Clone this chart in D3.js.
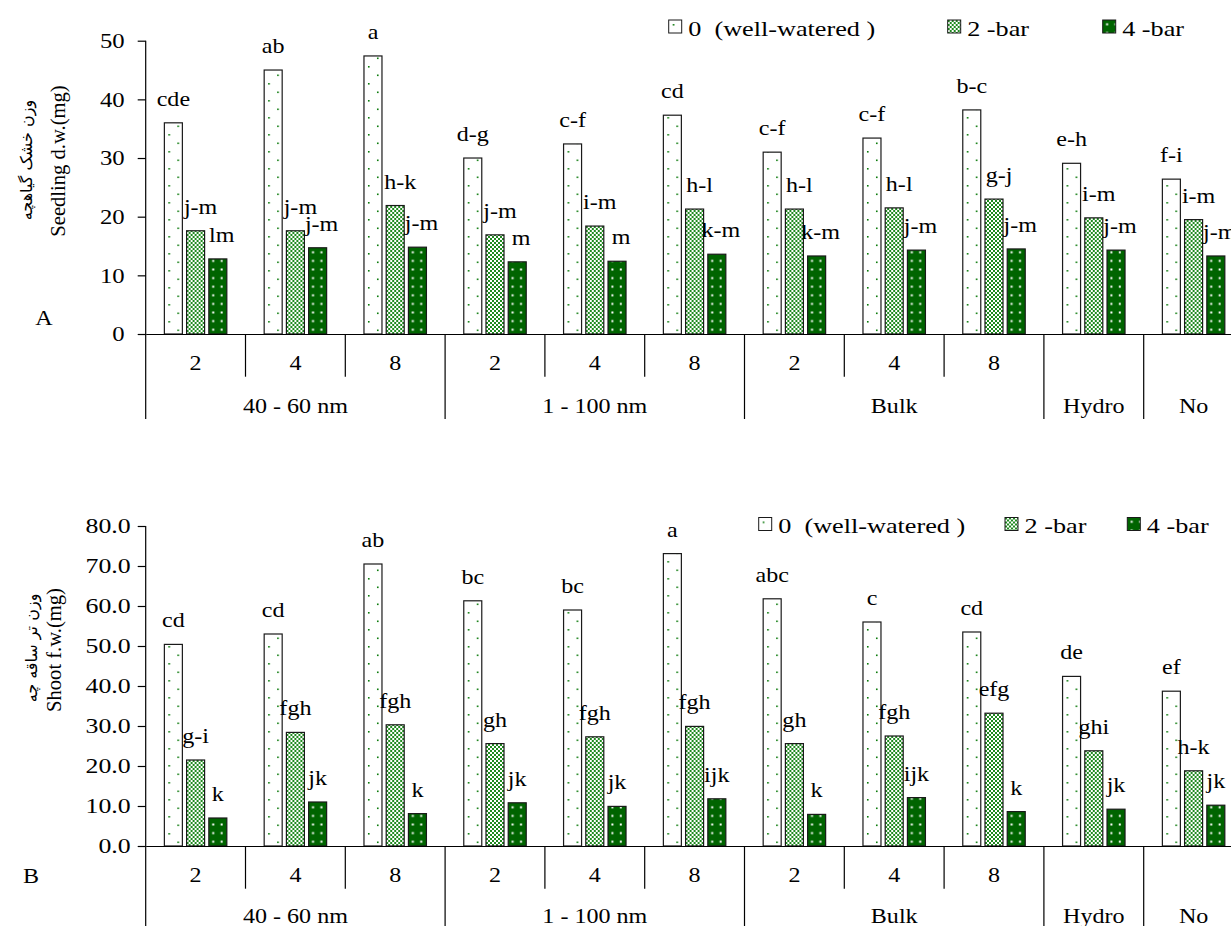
<!DOCTYPE html>
<html>
<head>
<meta charset="utf-8">
<script src="https://cdn.jsdelivr.net/npm/d3@7"></script>
<style>
  body { margin: 0; background: #fff; }
  svg { display: block; }
  text { font-family: "Liberation Serif", "Times New Roman", serif; fill: #000; }
  text.fa { font-family: "DejaVu Sans", "Noto Sans", sans-serif; }
</style>
</head>
<body>
<svg id="chart" width="1231" height="926"></svg>
<script>
// ---- data -------------------------------------------------------------
const subLabels   = ["2", "4", "8", "2", "4", "8", "2", "4", "8", "", ""];
const mainGroups  = ["40 - 60 nm", "1 - 100 nm", "Bulk", "Hydro", "No"];
const mainSpans   = [3, 3, 3, 1, 1];
const seriesNames = ["0  (well-watered )", "2 -bar", "4 -bar"];

// Seedling dry weight (mg)
const dryWeight0 = [36.0, 45.0, 47.4, 30.0, 32.4, 37.3, 31.0, 33.4, 38.2, 29.1, 26.4];
const dryWeight2 = [17.6, 17.6, 21.9, 16.9, 18.4, 21.3, 21.3, 21.5, 23.0, 19.8, 19.5];
const dryWeight4 = [12.8, 14.7, 14.8, 12.3, 12.4, 13.6, 13.3, 14.3, 14.5, 14.3, 13.3];
const dryLetters0 = ["cde", "ab", "a", "d-g", "c-f", "cd", "c-f", "c-f", "b-c", "e-h", "f-i"];
const dryLetters2 = ["j-m", "j-m", "h-k", "j-m", "i-m", "h-l", "h-l", "h-l", "g-j", "i-m", "i-m"];
const dryLetters4 = ["lm", "j-m", "j-m", "m", "m", "k-m", "k-m", "j-m", "j-m", "j-m", "j-m"];
const dryTicks = [0, 10, 20, 30, 40, 50];

// Shoot fresh weight (mg)
const shootFw0 = [50.4, 53.0, 70.5, 61.3, 59.0, 73.1, 61.8, 56.0, 53.5, 42.4, 38.7];
const shootFw2 = [21.5, 28.4, 30.3, 25.6, 27.3, 29.9, 25.6, 27.5, 33.2, 23.8, 18.8];
const shootFw4 = [7.0, 11.0, 8.1, 10.8, 9.9, 11.8, 7.9, 12.1, 8.6, 9.2, 10.2];
const shootLetters0 = ["cd", "cd", "ab", "bc", "bc", "a", "abc", "c", "cd", "de", "ef"];
const shootLetters2 = ["g-i", "fgh", "fgh", "gh", "fgh", "fgh", "gh", "fgh", "efg", "ghi", "h-k"];
const shootLetters4 = ["k", "jk", "k", "jk", "jk", "ijk", "k", "ijk", "k", "jk", "jk"];
const shootTicks = [0, 10, 20, 30, 40, 50, 60, 70, 80];

// ---- setup ------------------------------------------------------------
const FONT = 21.5;
const svg = d3.select("#chart");
svg.append("rect").attr("width", 1231).attr("height", 926).attr("fill", "#fff");
const defs = svg.append("defs");
const GREEN = "#006400";

// widen glyphs horizontally around each text's anchor point
function widen(sel, sx) {
  sel.each(function () {
    const t = d3.select(this);
    const x = +t.attr("x") || 0, y = +t.attr("y") || 0;
    t.attr("x", 0).attr("y", 0).attr("transform", `translate(${x},${y}) scale(${sx},1)`);
  });
}

// well-watered: white with sparse staggered green dots
const p0 = defs.append("pattern").attr("id", "pat0").attr("patternUnits", "userSpaceOnUse")
  .attr("width", 18).attr("height", 17);
p0.append("rect").attr("width", 18).attr("height", 17).attr("fill", "#fff");
p0.append("rect").attr("x", 4).attr("y", 4).attr("width", 1.6).attr("height", 1.6).attr("fill", "#0a7a0a");
p0.append("rect").attr("x", 13).attr("y", 12.5).attr("width", 1.6).attr("height", 1.6).attr("fill", "#0a7a0a");

// 2-bar: fine green checker
const p1 = defs.append("pattern").attr("id", "pat1").attr("patternUnits", "userSpaceOnUse")
  .attr("width", 4).attr("height", 4);
p1.append("rect").attr("width", 4).attr("height", 4).attr("fill", "#fff");
p1.append("rect").attr("x", 0).attr("y", 0).attr("width", 2).attr("height", 2).attr("fill", "#1f8a1f");
p1.append("rect").attr("x", 2).attr("y", 2).attr("width", 2).attr("height", 2).attr("fill", "#1f8a1f");

// 4-bar: dark green with white dots
const p2 = defs.append("pattern").attr("id", "pat2").attr("patternUnits", "userSpaceOnUse")
  .attr("width", 18).attr("height", 8.6);
p2.append("rect").attr("width", 18).attr("height", 8.6).attr("fill", GREEN);
p2.append("rect").attr("x", 3.4).attr("y", 3.3).attr("width", 2).attr("height", 2).attr("fill", "#fff");
p2.append("rect").attr("x", 11.8).attr("y", 3.3).attr("width", 2).attr("height", 2).attr("fill", "#fff");

const xStart = 145.7, groupStep = 99.8;
const xGroup = d3.scaleBand()
  .domain(d3.range(subLabels.length))
  .range([xStart, xStart + groupStep * subLabels.length])
  .padding(0);
const xSeries = d3.scaleBand()
  .domain(d3.range(seriesNames.length))
  .range([0, xGroup.bandwidth()])
  .paddingInner(0.19)
  .paddingOuter(0.84);

function drawPanel(p) {
  const g = svg.append("g");
  const y = d3.scaleLinear().domain([0, p.max]).range([p.base, p.base - p.plotH]);

  // value axis
  const ya = g.append("g").attr("transform", `translate(${xStart},0)`)
    .call(d3.axisLeft(y).tickValues(p.ticks).tickFormat(p.fmt)
      .tickSize(8).tickSizeOuter(0).tickPadding(p.tickPad));
  ya.select(".domain").remove();
  ya.selectAll("line").attr("stroke", "#000").attr("stroke-width", 1.2);
  ya.selectAll("text").attr("font-size", FONT).attr("fill", "#000");
  widen(ya.selectAll("text"), p.tickWiden);

  // bars
  p.values.forEach((vals, si) => {
    const cell = g.append("g").selectAll("g").data(vals).join("g")
      .attr("transform", (d, i) => `translate(${xGroup(i) + xSeries(si)},${p.base})`);
    cell.append("rect")
      .attr("x", 0)
      .attr("y", d => y(d) - p.base)
      .attr("width", xSeries.bandwidth())
      .attr("height", d => p.base - y(d))
      .attr("fill", `url(#pat${si})`)
      .attr("stroke", "#1a1a1a").attr("stroke-width", 1.2);
  });

  // significance letters
  p.letters.forEach((lets, si) => {
    const t = g.append("g").selectAll("text").data(lets).join("text")
      .attr("x", (d, i) => xGroup(i) + xSeries(si) + xSeries.bandwidth() / 2 + p.letterDx[si])
      .attr("y", (d, i) => y(p.values[si][i]) - 17)
      .attr("text-anchor", "middle")
      .attr("font-size", FONT)
      .text(d => d);
    widen(t, 1.12);
  });

  // category axis
  const xa = g.append("g").attr("transform", `translate(0,${p.base})`)
    .call(d3.axisBottom(xGroup).tickFormat(i => subLabels[i]).tickSize(0).tickSizeOuter(0));
  xa.select(".domain").attr("stroke", "#000").attr("stroke-width", 1.2);
  xa.selectAll("text").attr("font-size", FONT).attr("fill", "#000").attr("dy", null).attr("y", 36);
  widen(xa.selectAll("text"), 1.12);

  // value axis line, continued down through the category area
  g.append("line")
    .attr("x1", xStart).attr("x2", xStart)
    .attr("y1", y(p.max)).attr("y2", p.base + 85)
    .attr("stroke", "#000").attr("stroke-width", 1.2);

  // separators between categories: long ones close a main group
  const majorIdx = new Set([0]);
  let acc = 0;
  mainSpans.forEach(s => { acc += s; majorIdx.add(acc); });
  const bounds = d3.range(1, subLabels.length + 1);
  g.append("g").selectAll("line").data(bounds).join("line")
    .attr("x1", i => xStart + i * xGroup.step())
    .attr("x2", i => xStart + i * xGroup.step())
    .attr("y1", p.base)
    .attr("y2", i => p.base + (majorIdx.has(i) ? 85 : 42.7))
    .attr("stroke", "#000").attr("stroke-width", 1.2);

  // main group labels
  let start = 0;
  const spans = mainSpans.map(s => { const o = { s: start, n: s }; start += s; return o; });
  const gl = g.append("g").selectAll("text").data(mainGroups).join("text")
    .attr("x", (d, i) => xStart + (spans[i].s + spans[i].n / 2) * xGroup.step())
    .attr("y", p.base + p.groupLabelDy)
    .attr("text-anchor", "middle")
    .attr("font-size", FONT)
    .text(d => d);
  widen(gl, 1.12);

  // axis titles
  g.append("text")
    .attr("transform", `translate(${p.titleX},${p.titleY}) rotate(-90)`)
    .attr("text-anchor", "middle").attr("dominant-baseline", "central")
    .attr("font-size", 20.6)
    .text(p.title);
  g.append("text").attr("class", "fa")
    .attr("transform", `translate(${p.titleFaX},${p.titleFaY}) rotate(-90)`)
    .attr("text-anchor", "middle").attr("dominant-baseline", "central")
    .attr("font-size", 16)
    .attr("direction", "rtl")
    .text(p.titleFa);

  // panel tag
  const tag = g.append("text")
    .attr("x", p.tagX).attr("y", p.tagY)
    .attr("text-anchor", "middle")
    .attr("font-size", FONT)
    .text(p.tag);
  widen(tag, 1.12);

  // legend
  const lg = g.append("g");
  seriesNames.forEach((name, si) => {
    lg.append("g").attr("transform", `translate(${p.legendX[si]},${p.legendY})`)
      .append("rect").attr("width", 13).attr("height", 13)
      .attr("fill", `url(#pat${si})`).attr("stroke", "#1a1a1a").attr("stroke-width", 1);
    const lt = lg.append("text")
      .attr("x", p.legendX[si] + 19.5)
      .attr("y", p.legendY + 15.5)
      .attr("font-size", FONT)
      .style("white-space", "pre")
      .text(name);
    widen(lt, 1.22);
  });
}

drawPanel({
  base: 334, plotH: 293.3, max: 50, ticks: dryTicks, fmt: d3.format("d"),
  tickPad: 13, tickWiden: 1.15,
  values: [dryWeight0, dryWeight2, dryWeight4],
  letters: [dryLetters0, dryLetters2, dryLetters4],
  letterDx: [0, 5, 4],
  groupLabelDy: 79.3,
  title: "Seedling d.w.(mg)", titleX: 58, titleY: 161,
  titleFa: "وزن خشک گیاهچه", titleFaX: 26, titleFaY: 160,
  tag: "A", tagX: 44, tagY: 325,
  legendX: [668.7, 947.7, 1102.7], legendY: 20
});

drawPanel({
  base: 846, plotH: 320, max: 80, ticks: shootTicks, fmt: d3.format(".1f"),
  tickPad: 7, tickWiden: 1.2,
  values: [shootFw0, shootFw2, shootFw4],
  letters: [shootLetters0, shootLetters2, shootLetters4],
  letterDx: [0, 0, 0],
  groupLabelDy: 76.5,
  title: "Shoot f.w.(mg)", titleX: 54, titleY: 650,
  titleFa: "وزن تر ساقه چه", titleFaX: 31, titleFaY: 648,
  tag: "B", tagX: 31, tagY: 883,
  legendX: [758.7, 1005, 1127.3], legendY: 517.5
});
</script>
</body>
</html>
